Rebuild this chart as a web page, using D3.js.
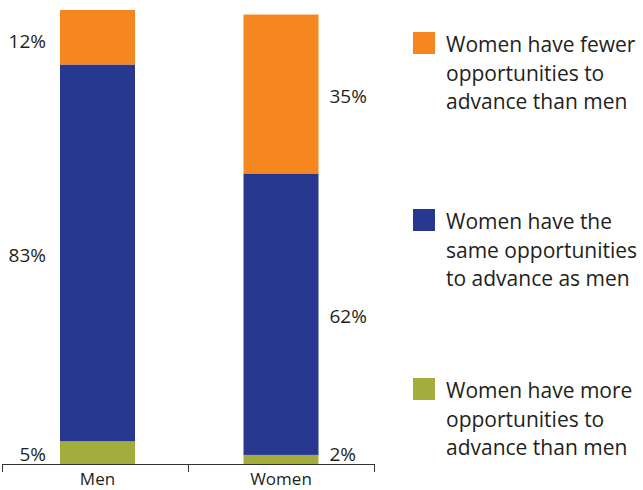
<!DOCTYPE html>
<html>
<head>
<meta charset="utf-8">
<script src="https://cdn.jsdelivr.net/npm/d3@7"></script>
<style>
  html, body { margin: 0; padding: 0; background: #fff; }
  svg { display: block; font-family: "Open Sans", "Noto Sans", sans-serif; }
</style>
</head>
<body>
<svg id="chart" width="643" height="490"></svg>
<script>
// Survey answers by respondent gender (percent)
const groups = ["Men", "Women"];
const answers = ["more", "same", "fewer"];          // stacked bottom to top
const moreValues  = [5, 2];
const sameValues  = [83, 62];
const fewerValues = [12, 35];
const legendLabels = [
  ["Women have fewer", "opportunities to", "advance than men"],
  ["Women have the", "same opportunities", "to advance as men"],
  ["Women have more", "opportunities to", "advance than men"]
];
const colors = { fewer: "#F58620", same: "#283891", more: "#A3AD3B" };
const textColor = "#231F20";

const rows = groups.map((g, i) => ({
  group: g, more: moreValues[i], same: sameValues[i], fewer: fewerValues[i]
}));

const svg = d3.select("#chart");
const baseY = 464, topY = 10;

const x = d3.scaleBand().domain(groups).range([2, 374]).paddingInner(0).paddingOuter(0);
const barWidth = 75;
const y = d3.scaleLinear().domain([0, 100]).range([baseY, topY]);
const barX = g => x(g) + (x.bandwidth() - barWidth) / 2 + (g === "Men" ? 2.5 : 0);

const series = d3.stack().keys(answers)(rows);

// bars
const layer = svg.append("g").selectAll("g").data(series).join("g")
  .attr("fill", d => colors[d.key]);
layer.selectAll("rect").data(d => d).join("rect")
  .attr("x", d => barX(d.data.group))
  .attr("width", barWidth)
  .attr("y", d => y(d[1]))
  .attr("height", d => y(d[0]) - y(d[1]));

// value labels: Men on the left of its bar, Women on the right
series.forEach(s => {
  s.forEach(d => {
    const g = d.data.group;
    const bx = barX(g);
    let cy = (y(d[0]) + y(d[1])) / 2 + 2;
    cy = Math.max(Math.min(cy, 454), 41);
    svg.append("text")
      .attr("x", g === "Men" ? bx - 14 : bx + barWidth + 11)
      .attr("y", cy)
      .attr("dy", "0.36em")
      .attr("text-anchor", g === "Men" ? "end" : "start")
      .attr("fill", textColor)
      .style("font-size", "19px")
      .text(d.data[s.key] + "%");
  });
});

// category axis with ticks at band boundaries
const axis = svg.append("g").attr("stroke", "#333").attr("stroke-width", 1);
const [r0, r1] = x.range();
axis.append("line").attr("x1", r0).attr("x2", r1).attr("y1", baseY + 0.5).attr("y2", baseY + 0.5);
const bounds = groups.map(g => x(g)).concat([r1]);
axis.selectAll("line.tick").data(bounds).join("line").attr("class", "tick")
  .attr("x1", d => Math.round(d) + 0.5).attr("x2", d => Math.round(d) + 0.5)
  .attr("y1", baseY).attr("y2", baseY + 8);
svg.append("g").selectAll("text").data(groups).join("text")
  .attr("x", d => x(d) + x.bandwidth() / 2 + (d === "Men" ? 2.5 : 0))
  .attr("y", 485)
  .attr("text-anchor", "middle")
  .attr("fill", textColor)
  .style("font-size", "17px")
  .text(d => d);

// legend
const legendTops = [32, 209, 378];
const legendKeys = ["fewer", "same", "more"];
const leg = svg.append("g").selectAll("g").data(legendKeys).join("g")
  .attr("transform", (d, i) => `translate(413,${legendTops[i]})`);
leg.append("rect").attr("width", 22).attr("height", 22).attr("fill", d => colors[d]);
leg.each(function(d, i) {
  const t = d3.select(this).append("text")
    .attr("fill", textColor)
    .style("font-size", "21px");
  legendLabels[i].forEach((line, j) => {
    t.append("tspan").attr("x", 33).attr("y", 20 + j * 28.6).text(line);
  });
});
</script>
</body>
</html>
